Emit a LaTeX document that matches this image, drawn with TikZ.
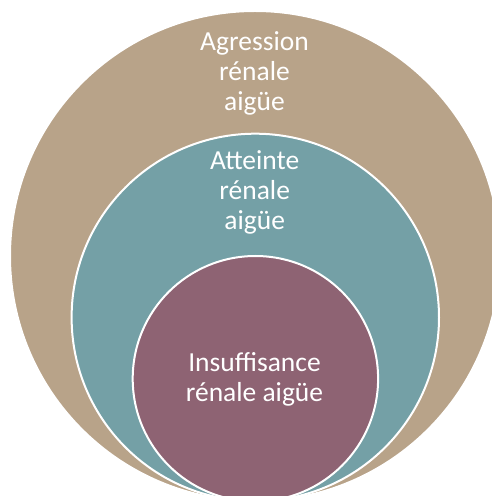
\documentclass[tikz,border=0pt]{standalone}
\usepackage{fontspec}
\setmainfont{Carlito}
\usepackage{tikz}

\definecolor{tanring}{RGB}{184,163,137}
\definecolor{tealring}{RGB}{116,160,166}
\definecolor{mauvering}{RGB}{142,99,115}

\tikzset{
  RingStyle/.style={draw=white,line width=2pt},
  LabelStyle/.style={text=white,align=center,inner sep=0pt,
    font=\fontsize{27.5pt}{30pt}\selectfont}
}

\begin{document}
\begin{tikzpicture}
\useasboundingbox (0pt,0pt) rectangle (492pt,496pt);
\clip (0pt,0pt) rectangle (492pt,496pt);

\draw[RingStyle,fill=tanring] (255pt,240pt) circle (245pt);
\draw[RingStyle,fill=tealring] (255.3pt,178.6pt) circle (183.7pt);
\draw[RingStyle,fill=mauvering] (255.4pt,117.3pt) circle (122.7pt);

\node[LabelStyle] (agression) at (254.5pt,422.3pt) {Agression\\rénale\\aigüe};
\node[LabelStyle] (atteinte) at (254.7pt,303.7pt) {Atteinte\\rénale\\aigüe};
\node[LabelStyle] (insuffisance) at (254.5pt,116.5pt) {Insuffisance\\rénale aigüe};
\end{tikzpicture}
\end{document}
